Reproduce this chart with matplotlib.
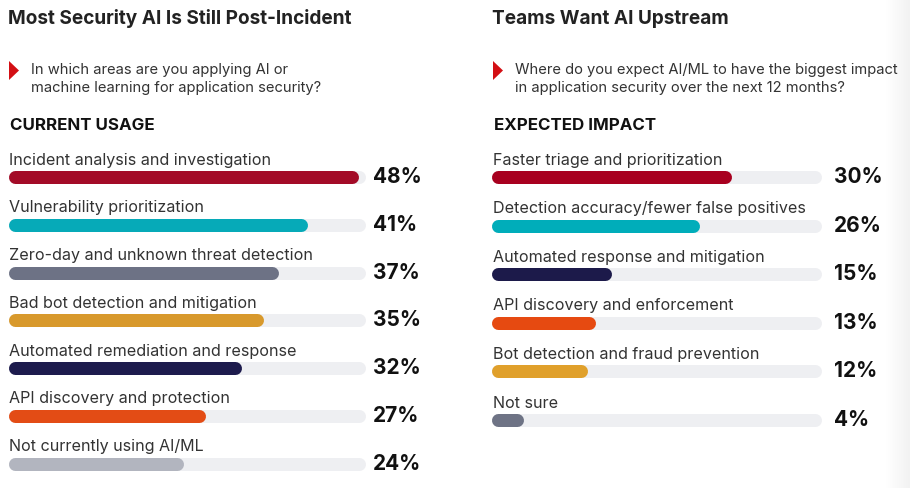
import numpy as np
import matplotlib
matplotlib.use("Agg")
import matplotlib.pyplot as plt
from matplotlib.patches import Polygon

plt.rcParams['font.family'] = ['Inter', 'DejaVu Sans']

# data
left_title = "Most Security AI Is Still Post-Incident"
left_question = ["In which areas are you applying AI or",
                 "machine learning for application security?"]
left_header = "CURRENT USAGE"
left_labels = ["Incident analysis and investigation",
               "Vulnerability prioritization",
               "Zero-day and unknown threat detection",
               "Bad bot detection and mitigation",
               "Automated remediation and response",
               "API discovery and protection",
               "Not currently using AI/ML"]
left_values = [48, 41, 37, 35, 32, 27, 24]
left_colors = ["#a30b27", "#06aab8", "#6d7285", "#d8992c",
               "#1d1b4d", "#e34c15", "#b2b5bf"]

right_title = "Teams Want AI Upstream"
right_question = ["Where do you expect AI/ML to have the biggest impact",
                  "in application security over the next 12 months?"]
right_header = "EXPECTED IMPACT"
right_labels = ["Faster triage and prioritization",
                "Detection accuracy/fewer false positives",
                "Automated response and mitigation",
                "API discovery and enforcement",
                "Bot detection and fraud prevention",
                "Not sure"]
right_values = [30, 26, 15, 13, 12, 4]
right_colors = ["#a8001f", "#00adba", "#1c1a4a", "#e64a11",
                "#e0a02b", "#6e7385"]

W, H = 910, 488
TRACK = "#eeeff2"
BAR_H = 13  # px

fig = plt.figure(figsize=(W / 100, H / 100), dpi=100)
fig.patch.set_facecolor("white")

# overlay axes in pixel coordinates for text
ov = fig.add_axes([0, 0, 1, 1])
ov.axis("off")

# faint grey strip at the right edge
grad = np.linspace(0, 1, 50)[None, :]
ov.imshow(grad, extent=(886, W, H, 0), cmap=matplotlib.colors.LinearSegmentedColormap.from_list(
    "g", ["#ffffff", "#f2f2f2"]), aspect="auto", zorder=0)
ov.set_xlim(0, W)
ov.set_ylim(H, 0)


def panel(x0, track_px, xmax, title, question, header, labels, values, colors,
          y_first, dy, pct_x):
    ov.text(x0, 19, title, fontsize=13.7, fontweight="bold", color="#222222",
            va="center", ha="left")
    tx = x0 + 1
    ov.add_patch(Polygon([[tx, 61], [tx, 80], [tx + 10, 70.5]], closed=True,
                         color="#d30f14", lw=0))
    for j, line in enumerate(question):
        ov.text(x0 + 23, 70 + j * 18, line, fontsize=10.6, color="#333333",
                va="center", ha="left")
    ov.text(x0 + 2, 125, header, fontsize=12.2, fontweight="bold", color="#111111",
            va="center", ha="left")

    ax = fig.add_axes([x0 / W, 0, track_px / W, 1])
    ax.set_xlim(0, xmax)
    ax.set_ylim(H, 0)
    ax.axis("off")
    ax.patch.set_alpha(0)
    r = (BAR_H / 2) * xmax / track_px  # cap radius in data units
    lw = BAR_H * 72 / 100
    for i, (lab, v, c) in enumerate(zip(labels, values, colors)):
        y = y_first + i * dy
        ax.plot([r, xmax - r], [y, y], color=TRACK, lw=lw,
                solid_capstyle="round", zorder=1)
        ax.plot([r, v - r], [y, y], color=c, lw=lw,
                solid_capstyle="round", zorder=2)
        ov.text(x0 + 1, y - 17, lab, fontsize=11.6, color="#333333",
                va="center", ha="left")
        ov.text(pct_x, y, f"{v}%", fontsize=15, fontweight="bold",
                color="#111111", va="center", ha="left")


panel(8, 358, 49, left_title, left_question, left_header,
      left_labels, left_values, left_colors, 177, 47.8, 373)
panel(492, 330, 41.25, right_title, right_question, right_header,
      right_labels, right_values, right_colors, 177, 48.6, 834)

fig.savefig("out.png", dpi=100, facecolor="white")
